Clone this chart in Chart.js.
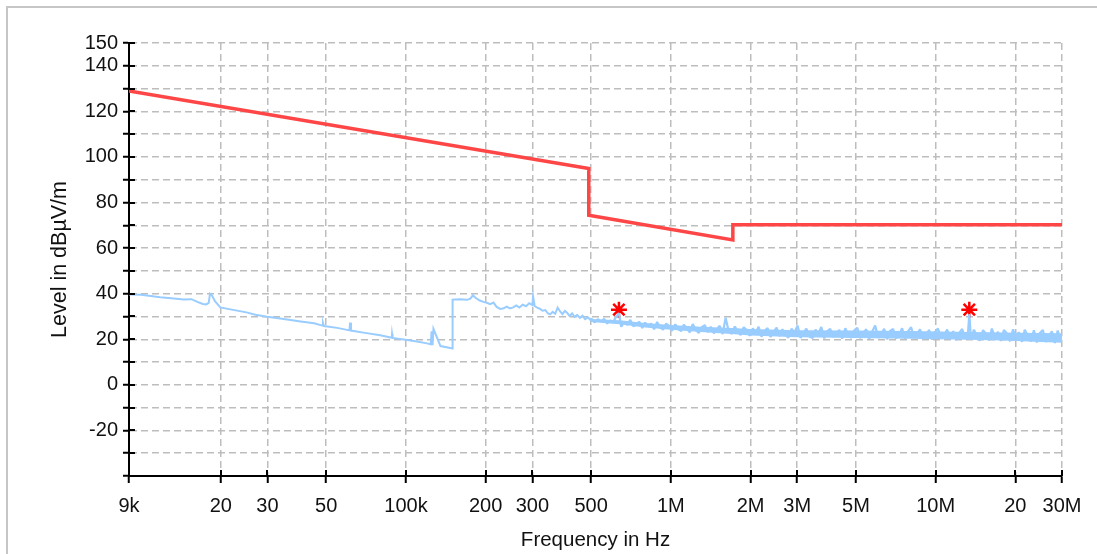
<!DOCTYPE html>
<html>
<head>
<meta charset="utf-8">
<script src="https://cdn.jsdelivr.net/npm/chart.js@4"></script>
<style>
  html, body { margin: 0; padding: 0; background: #fff; }
  canvas { display: block; }
</style>
</head>
<body>
<canvas id="emcChart" width="1097" height="554"></canvas>
<script>
// x axis ticks (Hz) and their printed labels
var xTickValues = [9e3, 2e4, 3e4, 5e4, 1e5, 2e5, 3e5, 5e5, 1e6, 2e6, 3e6, 5e6, 1e7, 2e7, 3e7];
var xTickLabels = ['9k', '20', '30', '50', '100k', '200', '300', '500', '1M', '2M', '3M', '5M', '10M', '20', '30M'];
// y axis: only these get a label, the others are just tick marks
var yTickLabels = [150, 140, 120, 100, 80, 60, 40, 20, 0, -20];

// limit line (red)
var limitFreqKHz = [9, 490, 490, 1715, 1715, 30000];
var limitLevel = [129, 94.9, 74.4, 63.6, 70.3, 70.3];

var traceLowKHz = [9, 10, 11.8, 13, 14.5, 15.5, 16.3, 17.1, 17.6, 18.0, 18.2, 18.5, 19.0, 19.9, 22,
  25, 27, 29.9, 33, 35.6, 40, 45, 48.3, 48.6, 49, 55, 61.2, 61.5, 62, 70,
  80, 88.4, 88.6, 89, 101, 110, 120, 124, 125, 126, 127, 135, 147, 149.5,
  150, 160, 170, 175, 179, 183, 190, 196, 202, 208, 214, 220, 227, 234, 240, 247,
  254, 261, 268, 276, 284, 292, 300, 302, 306, 313, 320, 328, 336, 344, 350, 358,
  366, 374, 382, 390, 398, 406, 415, 424, 433, 443, 454, 464, 475, 486, 497, 500];
var traceLowLevel = [39.6, 39.5, 38.4, 38.0, 37.4, 37.6, 36.4, 35.5, 35.3, 36.0, 40.0, 39.3, 36.7, 34.0, 33.0,
  31.8, 30.8, 29.9, 29.2, 28.7, 27.8, 27.0, 26.0, 27.2, 25.8, 25.0, 23.9, 27.3, 23.8, 22.8,
  21.8, 20.7, 22.3, 20.6, 19.7, 19.0, 18.2, 17.8, 23.5, 17.4, 24.6, 17.0, 16.2, 15.9,
  37.4, 37.6, 37.3, 37.8, 39.3, 38.2, 37.0, 36.4, 36.0, 35.4, 36.1, 34.2, 33.3, 33.6, 34.3, 33.5,
  34.0, 34.8, 33.9, 35.2, 34.5, 35.8, 35.0, 38.8, 34.6, 33.9, 33.4, 32.5, 32.8, 31.3, 30.9, 32.0,
  31.2, 33.9, 32.2, 31.0, 32.4, 31.6, 30.2, 31.4, 29.8, 30.6, 29.4, 30.3, 28.8, 29.6, 28.5, 29.3];

var traceHighKHz = [500, 515, 530, 545, 560, 575, 590, 605, 620, 637,
  650, 668, 685, 703, 722, 741, 760, 780, 800, 822,
  843, 865, 888, 911, 935, 960, 985, 1010, 1040, 1065,
  1095, 1120, 1150, 1180, 1210, 1245, 1275, 1310, 1345, 1380,
  1415, 1455, 1490, 1530, 1570, 1610, 1655, 1700, 1745, 1790,
  1835, 1885, 1935, 1985, 2040, 2090, 2145, 2200, 2260, 2320,
  2380, 2445, 2510, 2575, 2640, 2710, 2780, 2855, 2930, 3010,
  3090, 3170, 3250, 3340, 3430, 3520, 3610, 3700, 3800, 3900,
  4000, 4110, 4220, 4330, 4440, 4560, 4680, 4800, 4930, 5060,
  5190, 5330, 5470, 5610, 5760, 5910, 6070, 6230, 6390, 6560,
  6730, 6910, 7090, 7280, 7470, 7670, 7870, 8080, 8290, 8510,
  8730, 8960, 9200, 9440, 9690, 9950, 10200, 10500, 10800, 11050,
  11350, 11650, 11950, 12250, 12600, 12900, 13250, 13400, 13600, 13950,
  14300, 14700, 15100, 15500, 15900, 16300, 16750, 17200, 17650, 18100,
  18600, 19100, 19600, 20100, 20600, 21200, 21700, 22300, 22900, 23500,
  24100, 24700, 25400, 26100, 26800, 27500, 28200, 28900, 29700, 30000];
var traceHighLevel = [29.3, 27.4, 28.8, 27.9, 29.0, 26.9, 28.2, 27.5, 29.6, 31.4,
  25.5, 27.6, 26.3, 28.5, 25.7, 26.4, 27.7, 24.9, 27.3, 25.6,
  26.9, 24.4, 27.6, 25.2, 24.2, 26.8, 25.9, 23.7, 26.6, 24.5,
  23.6, 26.4, 24.8, 23.0, 26.7, 24.1, 22.8, 25.3, 26.2, 23.1,
  25.5, 22.6, 24.3, 25.9, 22.3, 29.4, 23.4, 22.4, 25.6, 23.6,
  21.8, 25.3, 23.9, 21.5, 24.8, 22.6, 25.5, 21.1, 23.7, 24.9,
  21.0, 23.2, 25.1, 21.4, 24.4, 22.0, 20.7, 24.6, 23.0, 26.0,
  20.6, 22.9, 24.7, 21.2, 20.5, 24.2, 22.4, 25.4, 20.4, 23.6,
  24.6, 21.0, 22.6, 24.1, 20.3, 24.8, 21.9, 20.6, 23.9, 25.0,
  20.5, 22.8, 24.4, 20.2, 23.3, 26.0, 20.7, 22.1, 24.6, 20.0,
  23.7, 24.5, 20.4, 21.9, 24.8, 20.1, 23.5, 25.3, 20.6, 22.4,
  24.4, 20.0, 21.8, 24.1, 19.8, 23.2, 24.7, 20.3, 22.0, 24.3,
  20.1, 23.6, 19.6, 22.7, 24.5, 20.2, 22.9, 31.0, 20.0, 24.2,
  21.5, 19.4, 24.0, 22.3, 19.6, 24.7, 20.9, 23.3, 19.3, 24.1,
  22.5, 19.1, 24.4, 20.2, 23.1, 18.9, 24.2, 21.4, 19.0, 23.9,
  18.6, 22.6, 24.0, 18.8, 21.7, 23.4, 18.4, 23.8, 19.5, 21.0];

// solid core of the noise band (lower / upper edge)
var bandFreqKHz = [500, 640, 800, 1000, 1300, 1700, 2000, 3000, 5000, 8000, 12000, 18000, 25000, 30000];
var bandLow = [27.6, 26.6, 25.2, 24.2, 23.2, 22.3, 21.6, 20.9, 20.5, 20.2, 19.9, 19.5, 18.8, 18.5];
var bandHigh = [28.9, 28.3, 27.1, 26.3, 25.5, 24.9, 24.5, 24.0, 23.8, 23.6, 23.3, 23.0, 22.8, 22.6];

// peak markers
var peakFreqKHz = [637, 13400];
var peakLevel = [33, 33];

function toPoints(freqs, levels) {
  return freqs.map(function (f, i) { return { x: f * 1000, y: levels[i] }; });
}

var textColor = '#111';
var gridColor = '#bdbdbd';
var traceColor = '#99ccff';
var fontFamily = 'Liberation Sans, Arial, sans-serif';

// white background, grey frame and the tick marks that poke into the plot
var framePlugin = {
  id: 'frame',
  beforeDraw: function (chart) {
    var ctx = chart.ctx;
    ctx.save();
    ctx.fillStyle = '#fff';
    ctx.fillRect(0, 0, chart.width, chart.height);
    ctx.strokeStyle = '#c6c6c6';
    ctx.lineWidth = 2;
    ctx.beginPath();
    ctx.moveTo(7, chart.height);
    ctx.lineTo(7, 7);
    ctx.lineTo(chart.width, 7);
    ctx.stroke();
    ctx.restore();
  },
  afterDraw: function (chart) {
    var ctx = chart.ctx;
    var area = chart.chartArea;
    ctx.save();
    ctx.strokeStyle = '#000';
    ctx.lineWidth = 2;
    ctx.beginPath();
    chart.scales.y.ticks.forEach(function (t) {
      var py = Math.round(chart.scales.y.getPixelForValue(t.value));
      ctx.moveTo(area.left, py);
      ctx.lineTo(area.left + 6, py);
    });
    chart.scales.x.ticks.forEach(function (t) {
      var px = Math.round(chart.scales.x.getPixelForValue(t.value));
      ctx.moveTo(px, area.bottom);
      ctx.lineTo(px, area.bottom - 6);
    });
    ctx.stroke();
    ctx.restore();
  }
};

var chart = new Chart(document.getElementById('emcChart'), {
  type: 'line',
  data: {
    datasets: [{
      label: 'Limit',
      data: toPoints(limitFreqKHz, limitLevel),
      borderColor: '#ff4646',
      borderWidth: 3.5,
      pointRadius: 0,
      tension: 0
    }, {
      label: 'Band low',
      data: toPoints(bandFreqKHz, bandLow),
      borderWidth: 0,
      borderColor: 'transparent',
      pointRadius: 0,
      fill: false,
      tension: 0
    }, {
      label: 'Band high',
      data: toPoints(bandFreqKHz, bandHigh),
      borderWidth: 0,
      borderColor: 'transparent',
      backgroundColor: traceColor,
      pointRadius: 0,
      fill: '-1',
      tension: 0
    }, {
      label: 'Trace',
      data: toPoints(traceLowKHz, traceLowLevel),
      borderColor: traceColor,
      borderWidth: 2,
      pointRadius: 0,
      tension: 0
    }, {
      label: 'Trace (noise)',
      data: toPoints(traceHighKHz, traceHighLevel),
      borderColor: traceColor,
      borderWidth: 2.2,
      borderJoinStyle: 'bevel',
      pointRadius: 0,
      tension: 0
    }, {
      label: 'Peaks',
      data: toPoints(peakFreqKHz, peakLevel),
      showLine: false,
      pointStyle: 'star',
      pointRadius: 8,
      borderWidth: 2.5,
      borderColor: '#ff0000',
      backgroundColor: '#ff0000'
    }]
  },
  options: {
    responsive: false,
    animation: false,
    devicePixelRatio: 1,
    layout: { padding: { left: 0, right: 35, top: 43, bottom: 0 } },
    plugins: {
      legend: { display: false },
      tooltip: { enabled: false }
    },
    scales: {
      x: {
        type: 'logarithmic',
        min: 9e3,
        max: 3e7,
        afterBuildTicks: function (scale) {
          scale.ticks = xTickValues.map(function (v) { return { value: v }; });
        },
        afterFit: function (scale) { scale.height = 78; },
        ticks: {
          autoSkip: false,
          maxRotation: 0,
          padding: 11,
          color: textColor,
          font: { family: fontFamily, size: 20 },
          callback: function (value, index) { return xTickLabels[index]; }
        },
        grid: {
          color: gridColor,
          lineWidth: 1.5,
          tickLength: 7,
          tickColor: '#000',
          tickWidth: 2,
          tickBorderDash: []
        },
        border: { color: '#000', width: 2, dash: [7, 4] },
        title: {
          display: true,
          text: 'Frequency in Hz',
          color: textColor,
          font: { family: fontFamily, size: 20.5 },
          padding: { top: 0, bottom: 1 }
        }
      },
      y: {
        type: 'linear',
        min: -40,
        max: 150,
        afterFit: function (scale) { scale.width = 129; },
        ticks: {
          stepSize: 10,
          autoSkip: false,
          padding: 5,
          color: textColor,
          font: { family: fontFamily, size: 20 },
          callback: function (value) {
            return yTickLabels.indexOf(value) >= 0 ? String(value) : '';
          }
        },
        grid: {
          color: gridColor,
          lineWidth: 1.5,
          tickLength: 6,
          tickColor: '#000',
          tickWidth: 2,
          tickBorderDash: []
        },
        border: { color: '#000', width: 2, dash: [7, 4] },
        title: {
          display: true,
          text: 'Level in dBµV/m',
          color: textColor,
          font: { family: fontFamily, size: 21.5 },
          padding: { top: 47, bottom: 0 }
        }
      }
    }
  },
  plugins: [framePlugin]
});
</script>
</body>
</html>
